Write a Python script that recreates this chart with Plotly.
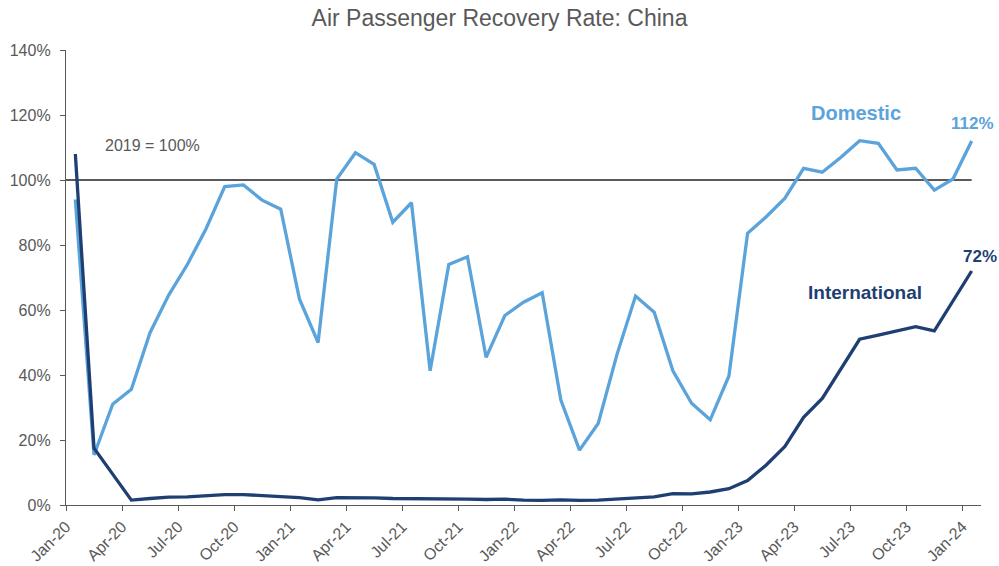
import plotly.graph_objects as go

months = [f"{m}-{y}" for y in range(20, 25) for m in
          ["Jan", "Feb", "Mar", "Apr", "May", "Jun", "Jul", "Aug", "Sep", "Oct", "Nov", "Dec"]][:49]

domestic = [94, 15.4, 31, 35.6, 53, 64.6, 74, 85, 98, 98.5, 93.8, 91,
            63.4, 50, 100.3, 108.4, 104.8, 87, 93, 41.3, 74, 76.4, 45.4, 58.3,
            62.4, 65.3, 32.3, 16.9, 25.1, 46.2, 64.3, 59.3, 41.3, 31.3, 26.2, 39.7,
            83.6, 88.7, 94.4, 103.6, 102.4, 107, 112.1, 111.3, 103.1, 103.6, 96.9, 100.3,
            112]
international = [108, 17.5, 9.5, 1.5, 2.0, 2.4, 2.5, 2.8, 3.2, 3.2, 2.8, 2.6,
                 2.3, 1.6, 2.3, 2.3, 2.2, 2.0, 2.0, 2.0, 2.0, 1.8, 1.7, 1.8,
                 1.5, 1.4, 1.6, 1.4, 1.5, 1.8, 2.2, 2.5, 3.5, 3.4, 4.0, 5.0,
                 7.5, 12.3, 18, 27, 32.8, 41.7, 51, 52.3, 53.6, 54.9, 53.6, 63,
                 72]
tick_labels = months[::3]

xs = [i + 0.5 for i in range(len(months))]
tickvals = list(range(0, len(months), 3))

DOM = "#5BA3DB"
INTL = "#1F3F73"
GRAY = "#595959"
FONT = "Liberation Sans, Arial, sans-serif"

fig = go.Figure()
fig.add_trace(go.Scatter(x=xs, y=domestic, mode="lines", name="Domestic",
                         line=dict(color=DOM, width=3.3), hoverinfo="skip"))
fig.add_trace(go.Scatter(x=xs, y=international, mode="lines", name="International",
                         line=dict(color=INTL, width=3.3), hoverinfo="skip"))

fig.add_shape(type="line", xref="x", yref="y", x0=0, x1=xs[-1], y0=100, y1=100,
              line=dict(color="#222222", width=1.3), layer="below")

fig.add_annotation(x=4.65, y=110.5, xref="x", yref="y", text="2019 = 100%", showarrow=False,
                   font=dict(family=FONT, size=16, color=GRAY))
fig.add_annotation(x=42.3, y=120.5, xref="x", yref="y", text="<b>Domestic</b>", showarrow=False,
                   font=dict(family=FONT, size=20, color=DOM))
fig.add_annotation(x=(972 - 66) / 915, y=117.5, xref="paper", yref="y", text="<b>112%</b>",
                   xanchor="center", showarrow=False, font=dict(family=FONT, size=17, color=DOM))
fig.add_annotation(x=42.8, y=65.5, xref="x", yref="y", text="<b>International</b>", showarrow=False,
                   font=dict(family=FONT, size=19, color=INTL))
fig.add_annotation(x=(980 - 66) / 915, y=76.5, xref="paper", yref="y", text="<b>72%</b>",
                   xanchor="center", showarrow=False, font=dict(family=FONT, size=17, color=INTL))

fig.update_layout(
    width=999, height=566,
    margin=dict(l=66, r=18, t=50, b=61, autoexpand=False),
    paper_bgcolor="white", plot_bgcolor="white",
    showlegend=False,
    title=dict(text="Air Passenger Recovery Rate: China", x=0.5, xanchor="center",
               y=0.968, yanchor="middle",
               font=dict(family=FONT, size=23, color=GRAY)),
    font=dict(family=FONT, color=GRAY),
)
fig.update_xaxes(range=[0, 49], tickvals=tickvals, ticktext=tick_labels, tickangle=-45,
                 showgrid=False, zeroline=False, showline=True, linecolor=GRAY, linewidth=1.3,
                 ticks="outside", ticklen=5, tickcolor=GRAY, automargin=False,
                 tickfont=dict(family=FONT, size=16, color=GRAY))
fig.update_yaxes(range=[0, 140], tickvals=list(range(0, 141, 20)),
                 ticktext=[f"{v}%" for v in range(0, 141, 20)],
                 showgrid=False, zeroline=False, showline=True, linecolor=GRAY, linewidth=1.3,
                 ticks="outside", ticklen=5, tickcolor=GRAY, automargin=False,
                 ticklabelstandoff=6,
                 tickfont=dict(family=FONT, size=16, color=GRAY))

fig.write_html("out.html")
